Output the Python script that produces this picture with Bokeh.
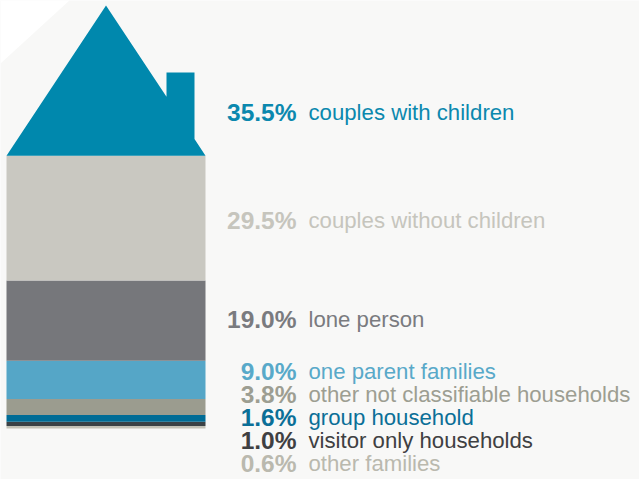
from bokeh.plotting import figure
from bokeh.models import Range1d, Label
from bokeh.embed import file_html
from bokeh.resources import INLINE

# ---- data ----
categories = ["couples with children", "couples without children", "lone person",
              "one parent families", "other not classifiable households",
              "group household", "visitor only households", "other families"]
shares = [35.5, 29.5, 19.0, 9.0, 3.8, 1.6, 1.0, 0.6]
pct_labels = ["35.5%", "29.5%", "19.0%", "9.0%", "3.8%", "1.6%", "1.0%", "0.6%"]

# ---- styles ----
band_colors = ["#0088ad", "#c9c8c1", "#76777b", "#55a6c7", "#9b9c8f",
               "#006c96", "#3b4246", "#c3c2b7"]
text_colors = ["#0b88ae", "#c6c5bd", "#7a7b7f", "#58a9c9", "#9d9e92",
               "#0b6f97", "#3f4042", "#bab9ae"]
label_baseline_px = [112, 220, 319, 371, 394, 417, 440, 463]

W, H = 639, 479
BASE_PX = 428.0      # pixel row of the house bottom
PX_PER = 4.23        # pixels per percentage point


def py(px):
    """pixel row -> data y"""
    return (BASE_PX - px) / PX_PER


p = figure(width=W, height=H, output_backend="svg", toolbar_location=None,
           x_range=Range1d(0, W), y_range=Range1d(py(H), py(0)),
           min_border=0, outline_line_color=None)
p.axis.visible = False
p.grid.visible = False
p.background_fill_color = "#f8f8f7"
p.border_fill_color = "#f8f8f7"

# white corner of the backdrop
p.patch([0, 70, 0], [py(-1), py(-1), py(63)], fill_color="#ffffff", line_color=None)

# ---- house body bands (stacked from bottom) ----
x_left, x_right = 6, 205
bottom = 0.0
for i in range(len(shares) - 1, 0, -1):
    p.quad(left=x_left, right=x_right, bottom=bottom, top=bottom + shares[i],
           fill_color=band_colors[i], line_color=None)
    bottom += shares[i]

# ---- roof (height = its share) ----
roof_base = bottom
apex_y = roof_base + shares[0]
apex_x = 105.5


def roof_y(x):
    return apex_y - (x - apex_x) / (x_right - apex_x) * shares[0]


ch_l, ch_r, ch_top = 166, 194, py(72)
rx = [x_left, apex_x, ch_l, ch_l, ch_r, ch_r, x_right]
ry = [roof_base, apex_y, roof_y(ch_l), ch_top, ch_top, roof_y(ch_r), roof_base]
p.patch(rx, ry, fill_color=band_colors[0], line_color=None)

# ---- labels ----
for i in range(len(shares)):
    yb = py(label_baseline_px[i])
    p.add_layout(Label(x=296, y=yb, text=pct_labels[i], text_align="right",
                       text_baseline="alphabetic", text_font="Liberation Sans",
                       text_font_style="bold", text_font_size="24.5px",
                       text_color=text_colors[i]))
    p.add_layout(Label(x=308, y=yb, text=categories[i], text_align="left",
                       text_baseline="alphabetic", text_font="Liberation Sans",
                       text_font_size="22.2px", text_color=text_colors[i]))

open("out.html", "w").write(file_html(p, INLINE))
